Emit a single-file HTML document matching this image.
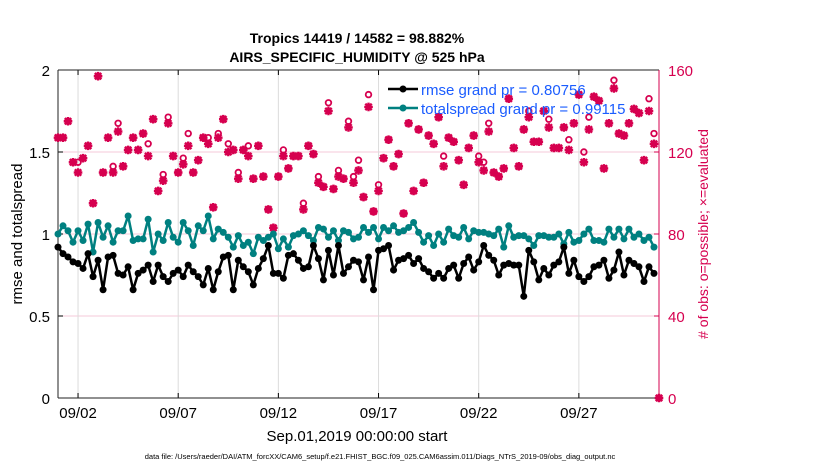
<!DOCTYPE html>
<html><head><meta charset="utf-8"><style>
body{margin:0;background:#fff;}
svg{display:block;font-family:"Liberation Sans",Arial,sans-serif;}
</style></head><body>
<svg id="chart" width="830" height="470" viewBox="0 0 830 470" xmlns="http://www.w3.org/2000/svg">
<text x="357" y="43" text-anchor="middle" font-size="14" font-weight="bold">Tropics 14419 / 14582 = 98.882%</text>
<text x="357" y="62" text-anchor="middle" font-size="14" font-weight="bold">AIRS_SPECIFIC_HUMIDITY @ 525 hPa</text>
<g id="grid"></g>
<g id="axes"></g>
<g id="marks"></g>
<text transform="translate(22,234) rotate(-90)" text-anchor="middle" font-size="15">rmse and totalspread</text>
<text transform="translate(708,234) rotate(-90)" text-anchor="middle" font-size="14" fill="#d6004f"># of obs: o=possible; ×=evaluated</text>
<text x="357" y="441" text-anchor="middle" font-size="15">Sep.01,2019 00:00:00 start</text>
<text x="380" y="459" text-anchor="middle" font-size="7.5">data file: /Users/raeder/DAI/ATM_forcXX/CAM6_setup/f.e21.FHIST_BGC.f09_025.CAM6assim.011/Diags_NTrS_2019-09/obs_diag_output.nc</text>
<g>
<line x1="388" y1="89" x2="418" y2="89" stroke="#000" stroke-width="2.5"/>
<circle cx="403" cy="89" r="3.5" fill="#000"/>
<text x="421" y="95" font-size="15" fill="#1a5cff">rmse grand pr = 0.80756</text>
<line x1="388" y1="108" x2="418" y2="108" stroke="#008080" stroke-width="2.5"/>
<circle cx="403" cy="108" r="3.5" fill="#008080"/>
<text x="421" y="114" font-size="15" fill="#1a5cff">totalspread grand pr = 0.99115</text>
</g>
</svg>
<script>
const rmse=[0.92,0.88,0.86,0.83,0.82,0.79,0.88,0.74,0.84,0.66,0.86,0.87,0.76,0.75,0.80,0.66,0.76,0.78,0.81,0.71,0.81,0.74,0.71,0.76,0.78,0.74,0.81,0.77,0.74,0.69,
0.79,0.66,0.77,0.86,0.87,0.66,0.84,0.80,0.77,0.69,0.79,0.85,0.93,0.76,0.76,0.73,0.87,0.88,0.84,0.79,0.80,0.93,0.85,0.72,0.90,0.75,0.93,0.76,0.80,0.84,
0.83,0.72,0.86,0.66,0.90,0.91,0.93,0.78,0.84,0.85,0.87,0.82,0.85,0.79,0.77,0.73,0.76,0.73,0.79,0.81,0.73,0.82,0.86,0.78,0.83,0.93,0.87,0.84,0.75,0.81,
0.82,0.81,0.81,0.62,0.90,0.83,0.72,0.79,0.75,0.81,0.83,0.92,0.76,0.84,0.74,0.71,0.74,0.80,0.81,0.84,0.73,0.78,0.89,0.75,0.84,0.82,0.80,0.71,0.80,0.76];
const spread=[1.0,1.05,1.02,0.95,1.02,0.96,1.06,0.89,1.07,0.98,1.05,0.95,1.02,1.02,1.11,0.96,0.97,0.97,1.09,0.89,1.0,0.96,1.07,0.98,0.95,1.07,1.02,0.93,1.05,1.02,
1.11,0.97,1.03,1.01,0.98,0.92,0.99,0.93,0.95,0.88,0.98,0.96,0.98,1.0,0.91,0.97,0.92,0.99,1.0,1.02,0.99,0.96,1.04,1.03,0.98,1.02,0.96,1.02,1.01,0.97,
0.98,1.04,1.01,1.04,0.97,1.04,1.02,1.05,1.01,1.02,1.04,1.07,1.01,0.95,0.99,0.93,1.0,0.95,1.03,0.99,0.98,1.04,0.97,1.02,1.01,1.01,1.0,0.99,1.03,0.92,
1.05,0.98,0.99,0.99,0.97,0.93,0.99,0.99,0.98,0.98,1.0,0.94,1.01,0.95,0.96,1.0,1.03,0.96,0.96,0.95,1.03,0.98,1.03,0.97,1.03,0.98,1.0,0.96,0.98,0.92];
const evaluated=[127,127,135,115,110,117,123,95,157,110,127,110,130,113,121,127,121,129,118,136,101,106,134,118,110,114,123,110,116,127,
124,93,127,136,120,121,107,121,118,107,123,108,92,83,108,118,112,118,118,92,123,119,105,103,140,102,108,107,132,105,
111,98,142,91,101,117,126,113,119,90,134,101,131,105,128,124,137,113,127,125,116,104,122,128,115,111,130,110,108,112,
146,122,113,131,137,125,125,140,132,122,122,132,121,134,148,115,131,147,145,112,134,151,129,128,134,141,139,116,140,124,0];
const possible=[127,127,135,115,115,117,123,95,157,110,127,113,134,113,121,127,121,129,124,136,101,109,137,118,110,117,129,110,116,127,
127,93,129,136,124,121,110,121,123,107,123,108,92,83,108,121,112,118,118,95,123,119,108,103,144,102,111,107,135,108,
116,98,148,91,104,117,126,113,119,90,134,101,131,105,128,124,137,118,127,125,116,104,122,128,118,115,134,110,108,112,
146,122,113,131,140,125,125,140,136,122,122,132,126,134,148,120,137,147,145,112,134,155,129,128,134,141,139,116,146,129,0];
const leftTicks=[0,0.5,1,1.5,2];
const rightTicks=[0,40,80,120,160];
const dateTicks=["09/02","09/07","09/12","09/17","09/22","09/27"];
const dateTickDays=[1,6,11,16,21,26];

const X0=58,X1=659,Y0=398,Y1=70;
const xs=t=>X0+t*(X1-X0)/30;
const yl=v=>Y0-v*(Y0-Y1)/2;
const yr=v=>Y0-v*(Y0-Y1)/160;
const NS="http://www.w3.org/2000/svg";
function mk(tag,attrs,parent){const e=document.createElementNS(NS,tag);for(const k in attrs)e.setAttribute(k,attrs[k]);parent.appendChild(e);return e;}
const grid=document.getElementById('grid'),axes=document.getElementById('axes'),marks=document.getElementById('marks');

leftTicks.forEach(v=>{
  if(v>0&&v<2){const g=mk('line',{x1:X0,x2:X1,y1:yl(v),y2:yl(v),stroke:'#f6c8d8','stroke-width':1},grid);
  
  }
  const t=mk('text',{x:X0-8,y:yl(v)+6,'text-anchor':'end','font-size':15},axes);t.textContent=v;
  
  
  mk('line',{x1:X0,x2:X0+5,y1:yl(v),y2:yl(v),stroke:'#000'},axes);
});
rightTicks.forEach(v=>{
  const t=mk('text',{x:X1+9,y:yr(v)+6,'font-size':15,fill:'#d6004f'},axes);t.textContent=v;
  
  
  mk('line',{x1:X1-5,x2:X1,y1:yr(v),y2:yr(v),stroke:'#d6004f'},axes);
});
dateTicks.forEach((lab,i)=>{
  const x=xs(dateTickDays[i]);
  const g=mk('line',{x1:x,x2:x,y1:Y1,y2:Y0,stroke:'#dcdcdc','stroke-width':1},grid);
  
  
  mk('line',{x1:x,x2:x,y1:Y0,y2:Y0-5,stroke:'#000'},axes);
  mk('line',{x1:x,x2:x,y1:Y1,y2:Y1+5,stroke:'#000'},axes);
  const t=mk('text',{x:x,y:Y0+20,'text-anchor':'middle','font-size':15},axes);t.textContent=lab;
  
  
});
mk('line',{x1:X0,x2:X1,y1:Y0,y2:Y0,stroke:'#222'},axes);
mk('line',{x1:X0,x2:X1,y1:Y1,y2:Y1,stroke:'#222'},axes);
mk('line',{x1:X0,x2:X0,y1:Y1,y2:Y0,stroke:'#222'},axes);
mk('line',{x1:X1,x2:X1,y1:Y1,y2:Y0,stroke:'#d6004f'},axes);

possible.forEach((v,i)=>{
  const c=mk('circle',{cx:xs(i/4),cy:yr(v),r:2.8,fill:'none',stroke:'#d6004f','stroke-width':1.8},marks);
  
  
});
evaluated.forEach((v,i)=>{
  const x=xs(i/4),y=yr(v),s=4.3;
  const p=mk('path',{d:`M${x-s},${y}H${x+s}M${x},${y-s}V${y+s}M${x-3.2},${y-3.2}L${x+3.2},${y+3.2}M${x-3.2},${y+3.2}L${x+3.2},${y-3.2}`,stroke:'#d6004f','stroke-width':2.4,fill:'none'},marks);
  
  
});
function series(arr,color,name){
  const d=arr.map((v,i)=>(i?'L':'M')+xs(i/4)+','+yl(v)).join('');
  const l=mk('path',{d:d,stroke:color,'stroke-width':2.5,fill:'none','stroke-linejoin':'round'},marks);
  
  
  arr.forEach((v,i)=>{
    const c=mk('circle',{cx:xs(i/4),cy:yl(v),r:3.5,fill:color},marks);
    
    
  });
}
series(spread,'#008080','totalspread');
series(rmse,'#000','rmse');
</script>
</body></html>
